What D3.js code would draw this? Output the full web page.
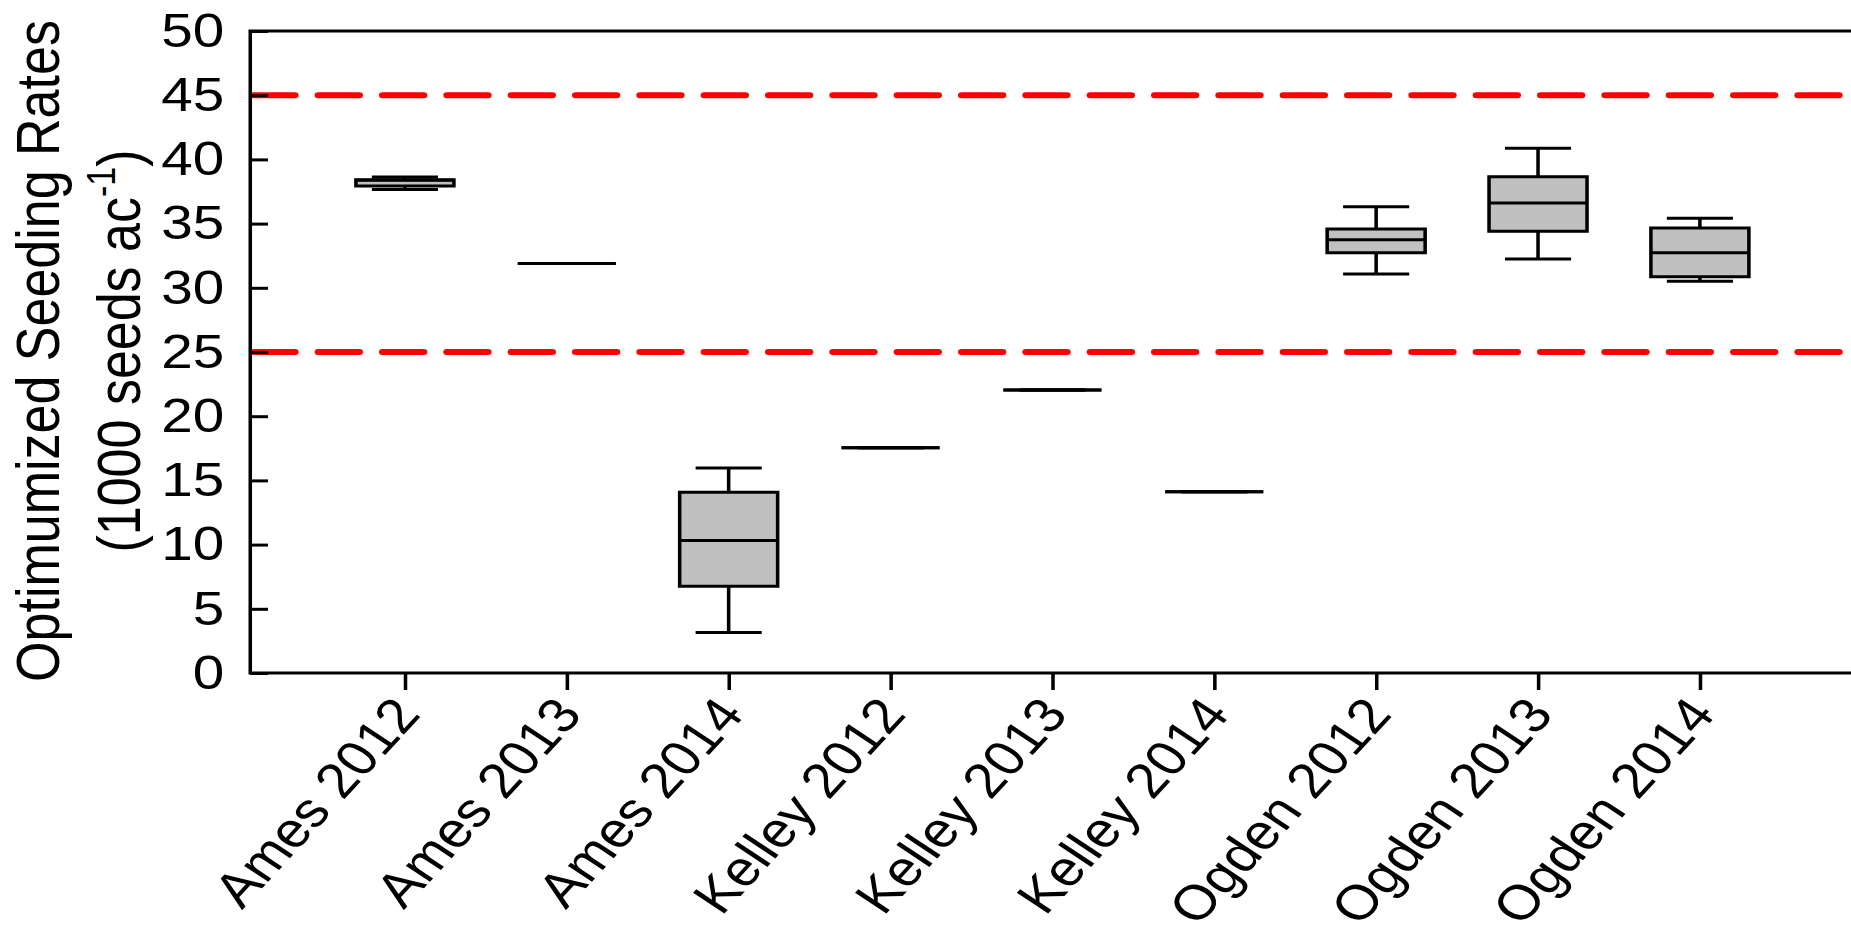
<!DOCTYPE html>
<html>
<head>
<meta charset="utf-8">
<script src="https://cdn.jsdelivr.net/npm/d3@7"></script>
<style>
  html, body { margin: 0; padding: 0; background: #fff; overflow: hidden; }
</style>
</head>
<body>
<div id="chart"></div>
<script>
// values (1000 seeds ac-1)
const categories = ["Ames 2012", "Ames 2013", "Ames 2014", "Kelley 2012", "Kelley 2013",
  "Kelley 2014", "Ogden 2012", "Ogden 2013", "Ogden 2014"];
const whiskerLow  = [37.66, 31.9, 3.15, 17.55, 22.04, 14.12, 31.07, 32.25, 30.51];
const q1          = [37.93, 31.9, 6.76, 17.55, 22.04, 14.12, 32.73, 34.40, 30.86];
const median      = [38.38, 31.9, 10.31, 17.55, 22.04, 14.12, 33.74, 36.60, 32.73];
const q3          = [38.42, 31.9, 14.07, 17.55, 22.04, 14.12, 34.58, 38.64, 34.65];
const whiskerHigh = [38.63, 31.9, 15.97, 17.55, 22.04, 14.12, 36.32, 40.87, 35.41];
const refLines = [45, 25];
const yTicks = [0, 5, 10, 15, 20, 25, 30, 35, 40, 45, 50];
const yTitle = "Optimumized Seeding Rates";
const yUnit = "(1000 seeds ac";

// the reference is horizontally stretched, so draw in 1568 units and stretch to 1851
const width = 1851, height = 936, vbWidth = 1568;
const margin = { top: 31, bottom: 263, left: 212, right: -4 };
const font = "'Liberation Sans', Arial, Helvetica, sans-serif";

const svg = d3.select("#chart")
  .append("svg")
  .attr("width", width)
  .attr("height", height)
  .attr("viewBox", `0 0 ${vbWidth} ${height}`)
  .attr("preserveAspectRatio", "none");

const y = d3.scaleLinear()
  .domain([0, 50])
  .range([height - margin.bottom, margin.top]);

const x = d3.scalePoint()
  .domain(categories)
  .range([343, 1440]);

const boxW = 83, capW = 56;

// reference lines
svg.selectAll("line.ref")
  .data(refLines)
  .enter()
  .append("line")
  .attr("class", "ref")
  .attr("x1", margin.left + 3)
  .attr("x2", vbWidth - margin.right)
  .attr("y1", d => y(d))
  .attr("y2", d => y(d))
  .attr("stroke", "#ff0000")
  .attr("stroke-width", 6)
  .attr("stroke-linecap", "round")
  .attr("stroke-dasharray", "35,19.5");

const data = categories.map((c, i) => ({
  name: c, lo: whiskerLow[i], q1: q1[i], med: median[i], q3: q3[i], hi: whiskerHigh[i]
}));

const g = svg.selectAll("g.box")
  .data(data)
  .enter()
  .append("g")
  .attr("class", "box")
  .attr("transform", d => `translate(${x(d.name)},0)`)
  .attr("stroke", "#000")
  .attr("stroke-width", 3)
  .attr("fill", "none");

// whiskers
g.append("line").attr("x1", 0).attr("x2", 0).attr("y1", d => y(d.q3)).attr("y2", d => y(d.hi));
g.append("line").attr("x1", 0).attr("x2", 0).attr("y1", d => y(d.q1)).attr("y2", d => y(d.lo));
g.append("line").attr("x1", -capW / 2).attr("x2", capW / 2).attr("y1", d => y(d.hi)).attr("y2", d => y(d.hi));
g.append("line").attr("x1", -capW / 2).attr("x2", capW / 2).attr("y1", d => y(d.lo)).attr("y2", d => y(d.lo));

// box as a path so a flat box still shows as a line
g.append("path")
  .attr("fill", "#c0c0c0")
  .attr("d", d => `M${-boxW / 2},${y(d.q3)}H${boxW / 2}V${y(d.q1)}H${-boxW / 2}Z`);

g.append("line")
  .attr("x1", -boxW / 2).attr("x2", boxW / 2)
  .attr("y1", d => y(d.med)).attr("y2", d => y(d.med));

// y axis
const yAxis = d3.axisLeft(y)
  .tickValues(yTicks)
  .tickSizeInner(-15)
  .tickSizeOuter(0)
  .tickPadding(22);

const yG = svg.append("g")
  .attr("transform", `translate(${margin.left},0)`)
  .call(yAxis);
yG.select(".domain").remove();
yG.selectAll("line").attr("stroke", "#000").attr("stroke-width", 3);
yG.selectAll("text")
  .attr("fill", "#000")
  .attr("font-size", 48)
  .attr("font-family", font);

// x axis
const xAxis = d3.axisBottom(x)
  .tickSizeInner(17)
  .tickSizeOuter(0);

const xG = svg.append("g")
  .attr("transform", `translate(0,${height - margin.bottom})`)
  .call(xAxis);
xG.select(".domain").remove();
xG.selectAll("line").attr("stroke", "#000").attr("stroke-width", 3);
xG.selectAll("text")
  .attr("x", 0)
  .attr("y", 0)
  .attr("dy", 0)
  .attr("text-anchor", "end")
  .attr("transform", "translate(14,42) rotate(-52)")
  .attr("fill", "#000")
  .attr("font-size", 49)
  .attr("font-family", font);

// frame: left, top and bottom (right edge falls off the picture)
const yBot = height - margin.bottom;
svg.append("path")
  .attr("d", `M${vbWidth + 5},${margin.top}H${margin.left}V${yBot}H${vbWidth + 5}`)
  .attr("fill", "none")
  .attr("stroke", "#000")
  .attr("stroke-width", 3);

// y title, two lines
const midY = 351;
svg.append("text")
  .attr("transform", `translate(50,${midY}) rotate(-90)`)
  .attr("text-anchor", "middle")
  .attr("font-size", 52)
  .attr("font-family", font)
  .text(yTitle);

const unit = svg.append("text")
  .attr("transform", `translate(119,${midY}) rotate(-90)`)
  .attr("text-anchor", "middle")
  .attr("font-size", 52)
  .attr("font-family", font);
unit.append("tspan").text(yUnit);
unit.append("tspan").attr("font-size", 34).attr("dy", -22).text("-1");
unit.append("tspan").attr("dy", 22).text(")");
</script>
</body>
</html>
